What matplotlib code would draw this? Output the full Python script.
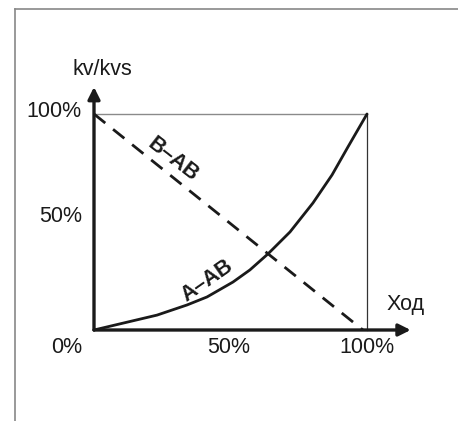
import matplotlib
matplotlib.use("Agg")
import matplotlib.pyplot as plt
from matplotlib.lines import Line2D

plt.rcParams['font.family'] = ['Liberation Sans', 'DejaVu Sans']

# Valve flow characteristics (stroke %, kv/kvs %)
stroke_a = [0, 23.1, 34.1, 41.4, 50.9, 57.1, 63.7, 71.8, 80.2, 87.2, 93, 100]
flow_a = [0, 6.9, 11.6, 15.3, 22.2, 27.8, 35.2, 45.4, 58.8, 71.8, 84.7, 100]
stroke_b = [0, 98.5]
flow_b = [100, 0]
x_ticks = [0, 50, 100]
x_tick_labels = ["0%", "50%", "100%"]
y_ticks = [50, 100]
y_tick_labels = ["50%", "100%"]

W, H = 458, 421
fig = plt.figure(figsize=(W / 100, H / 100), dpi=100)

# border lines along left and top edges
fig.add_artist(Line2D([15 / W, 15 / W], [0, 1 - 9 / H], color="#888888", lw=1.2))
fig.add_artist(Line2D([15 / W, 1], [1 - 9 / H, 1 - 9 / H], color="#888888", lw=1.2))

x0, x1, y0, y1 = 94, 367, 330, 114
ax = fig.add_axes([x0 / W, 1 - y0 / H, (x1 - x0) / W, (y0 - y1) / H])
ax.set_xlim(0, 100)
ax.set_ylim(0, 100)
ax.axis("off")

ink = "#1a1a1a"

# 100% reference box
ax.plot([0, 100], [100, 100], color="#8a8a8a", lw=1.0, clip_on=False)
ax.plot([100, 100], [0, 100], color="#333333", lw=0.9, clip_on=False)

# curves
ax.plot(stroke_a, flow_a, color=ink, lw=2.0, clip_on=False,
        solid_capstyle="round", solid_joinstyle="round")
ax.plot(stroke_b, flow_b, color=ink, lw=2.0, clip_on=False, dashes=(5.2, 3.6))

# axes with arrows
arrow = dict(arrowstyle="-|>", color=ink, lw=2.4, mutation_scale=18, shrinkA=0, shrinkB=0)
ax.annotate("", xy=(116, 0), xytext=(0, 0), arrowprops=arrow, annotation_clip=False)
ax.annotate("", xy=(0, 112.5), xytext=(0, 0), arrowprops=arrow, annotation_clip=False)

fs = 15.5
for v, lab in zip(x_ticks, x_tick_labels):
    if v == 0:
        ax.text(-4.4, -8.3, lab, ha="right", va="center", fontsize=fs, color=ink)
    else:
        ax.text(v - 0.5 if v == 50 else v, -8.3, lab, ha="center", va="center",
                fontsize=fs, color=ink)
for v, lab in zip(y_ticks, y_tick_labels):
    ax.text(-4.4, v + (1.0 if v == 100 else 2.5), lab, ha="right", va="center",
            fontsize=fs, color=ink)

ax.text(3.1, 120.4, "kv/kvs", ha="center", va="center", fontsize=fs, color=ink)
ax.text(114, 11.6, "Ход", ha="center", va="center", fontsize=fs, color=ink)

ax.text(29, 78.7, "B–AB", ha="center", va="center", fontsize=15.5, fontweight="bold",
        rotation=-38, color=ink)
ax.text(41.6, 22.9, "A–AB", ha="center", va="center", fontsize=15.5, fontweight="bold",
        rotation=35, color=ink)

fig.savefig("out.png", dpi=100)
